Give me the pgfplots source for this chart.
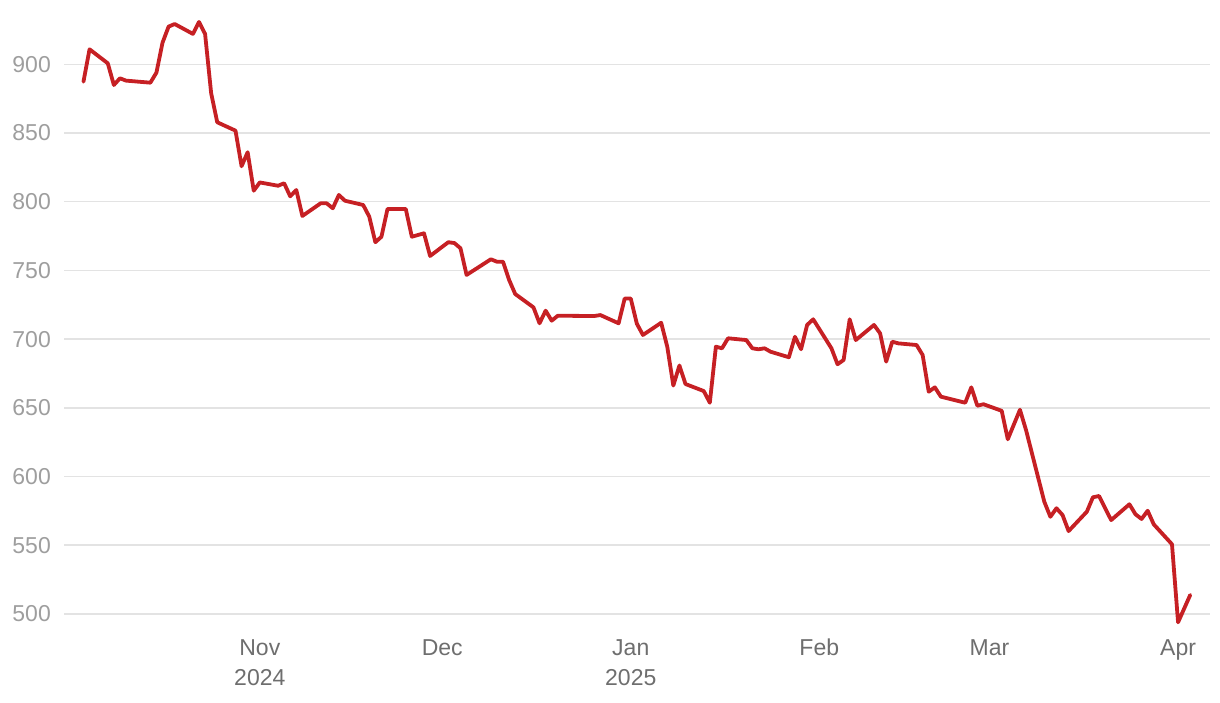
\documentclass[border=0pt]{standalone}
\usepackage{pgfplots}
\pgfplotsset{compat=1.18}
\usepackage{fontspec}
\setmainfont{Liberation Sans}
\definecolor{linered}{HTML}{C62024}
\definecolor{gridgray}{HTML}{E3E3E3}
\definecolor{ylab}{HTML}{9E9E9E}
\definecolor{xlab}{HTML}{6E6E6E}
\begin{document}
\begin{tikzpicture}
\useasboundingbox (0,0) rectangle (1220pt,702pt);
\begin{axis}[
  at={(64pt,72pt)}, anchor=south west,
  scale only axis, width=1146pt, height=620pt,
  xmin=-32.2, xmax=156.25, ymin=488.3, ymax=939.5,
  axis line style={draw=none},
  ymajorgrids, major grid style={gridgray, line width=1.5pt},
  ytick={500,550,600,650,700,750,800,850,900},
  xtick={0,30,61,92,120,151},
  xticklabels={Nov\\2024,Dec,Jan\\2025,Feb,Mar,Apr},
  major tick length=0pt, tick style={draw=none},
  /pgf/number format/assume math mode=true,
  yticklabel style={anchor=east, inner sep=0pt, xshift=-13pt, text=ylab, font=\fontsize{23}{30}\selectfont},
  xticklabel style={anchor=north, inner sep=0pt, yshift=-9pt, align=center, text=xlab, font=\fontsize{23}{30}\selectfont},
  clip=false,
]
\addplot[linered, line width=3.8pt, line join=round, line cap=round] coordinates {
(-29,887.3) (-28,910.9) (-25,900.7) (-24,884.9) (-23,889.8) (-22,888.1)
(-18,886.6) (-17,893.9) (-16,915.7) (-15,927.4) (-14,929.3) (-11,922.1)
(-10,930.8) (-9,922.1) (-8,878.9) (-7,857.8) (-4,851.7) (-3,825.8)
(-2,836.0) (-1,808.0) (0,814.0) (3,811.6) (4,813.4) (5,803.9) (6,808.5)
(7,789.6) (10,798.8) (11,798.8) (12,795.2) (13,804.9) (14,800.7)
(17,797.6) (18,789.1) (19,770.5) (20,774.5) (21,794.7) (24,794.7)
(25,774.5) (27,777.0) (28,760.5) (31,770.5) (32,769.9) (33,766.1)
(34,746.7) (38,758.1) (39,756.3) (40,756.3) (41,743.0) (42,732.8)
(45,723.1) (46,711.5) (47,720.7) (48,713.4) (49,717.0) (55,716.8)
(56,717.5) (59,711.5) (60,729.5) (61,729.5) (62,711.2) (63,703.0)
(66,711.9) (67,694.5) (68,666.2) (69,680.8) (70,667.3) (73,662.2)
(74,653.7) (75,694.5) (76,693.3) (77,700.6) (80,699.3) (81,693.3)
(82,692.6) (83,693.3) (84,690.8) (87,686.8) (88,701.7) (89,692.6)
(90,710.3) (91,714.4) (94,693.3) (95,681.7) (96,684.8) (97,714.4)
(98,699.3) (101,710.3) (102,704.2) (103,683.6) (104,698.1) (105,696.9)
(108,695.7) (109,688.4) (110,661.7) (111,664.9) (112,658.1) (116,653.7)
(117,664.9) (118,651.5) (119,652.6) (122,647.8) (123,627.1) (125,648.6)
(126,633.8) (129,581.7) (130,570.7) (131,576.9) (132,572.0) (133,560.3)
(136,574.4) (137,584.9) (138,585.8) (140,568.3) (143,579.8) (144,572.5)
(145,569.1) (146,575.1) (147,565.2) (150,550.7) (151,493.9) (153,513.8)
};
\end{axis}
\end{tikzpicture}
\end{document}
